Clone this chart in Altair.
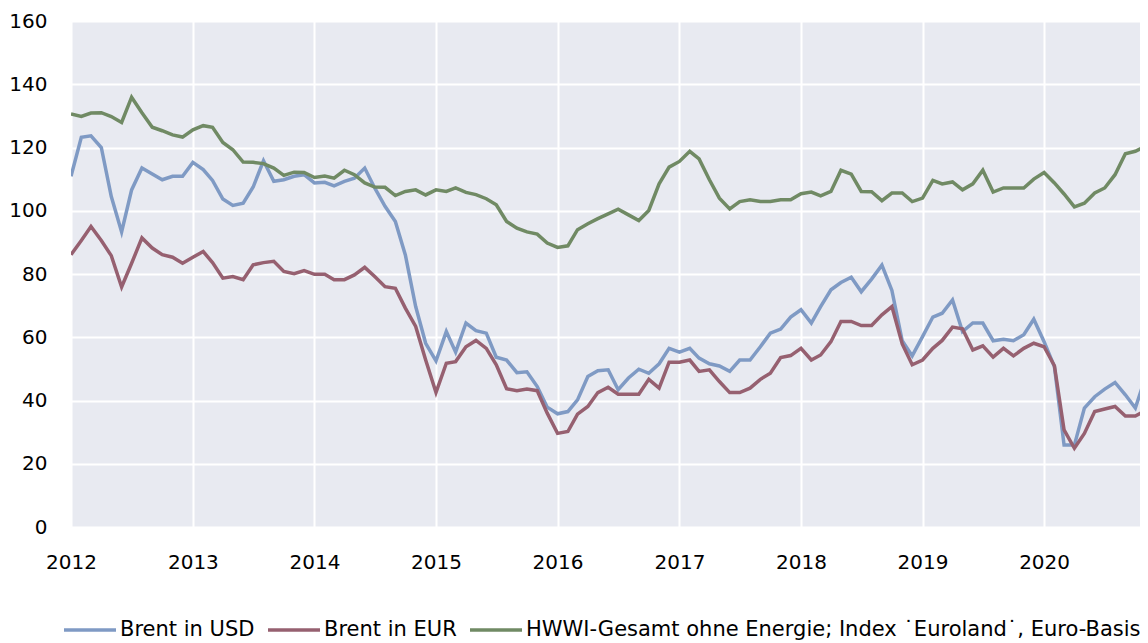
import altair as alt
import pandas as pd

# Monthly observations, Jan 2012 .. Nov 2020
months = [d.strftime("%Y-%m-%d") for d in pd.date_range("2012-01-01", periods=107, freq="MS")]

usd = [110.9, 123.2, 123.7, 120.0, 104.5, 93.3, 106.6, 113.5, 111.6, 109.8, 110.9, 110.9,
       115.3, 113.0, 109.6, 103.7, 101.7, 102.4, 107.5, 115.8, 109.3, 109.8, 110.9, 111.4,
       108.8, 109.0, 107.9, 109.3, 110.3, 113.5, 107.2, 101.4, 96.6, 86.0, 69.7, 58.1,
       52.5, 61.8, 55.3, 64.5, 62.1, 61.3, 53.7, 52.8, 48.8, 49.1, 44.4, 37.9,
       35.8, 36.5, 40.2, 47.6, 49.4, 49.7, 43.4, 47.1, 49.9, 48.6, 51.6, 56.5,
       55.3, 56.5, 53.4, 51.6, 50.9, 49.2, 52.8, 52.8, 57.0, 61.3, 62.6, 66.4,
       68.7, 64.5, 69.7, 75.0, 77.3, 79.0, 74.4, 78.4, 82.8, 74.8, 58.9, 54.1,
       60.2, 66.4, 67.6, 71.8, 61.8, 64.5, 64.5, 58.9, 59.4, 58.9, 60.8, 65.7,
       58.6, 50.7, 25.9, 25.9, 37.6, 41.2, 43.6, 45.7, 41.8, 37.6, 47.6]

eur = [86.1, 90.6, 95.0, 90.6, 85.8, 75.9, 83.4, 91.4, 88.2, 86.1, 85.3, 83.4,
       85.3, 87.1, 83.6, 78.7, 79.2, 78.2, 82.9, 83.6, 84.0, 80.8, 80.1, 81.1,
       79.9, 79.9, 78.2, 78.2, 79.7, 82.1, 79.2, 76.0, 75.5, 69.2, 63.4, 52.8,
       42.5, 51.8, 52.3, 57.0, 59.0, 56.5, 51.3, 43.7, 43.1, 43.6, 43.1, 36.0,
       29.6, 30.2, 35.7, 38.1, 42.5, 44.2, 42.0, 42.0, 42.0, 46.7, 43.9, 52.1,
       52.1, 52.8, 49.2, 49.7, 46.0, 42.5, 42.5, 43.9, 46.7, 48.6, 53.6, 54.2,
       56.5, 52.8, 54.4, 58.6, 65.0, 65.0, 63.7, 63.7, 67.1, 69.7, 57.9, 51.3,
       52.8, 56.5, 59.0, 63.2, 62.7, 56.0, 57.3, 53.7, 56.5, 54.1, 56.5, 58.1,
       57.0, 51.0, 30.7, 24.9, 29.6, 36.5, 37.3, 38.1, 35.1, 35.1, 36.8]

hwwi = [130.6, 129.8, 130.9, 131.0, 129.8, 127.9, 135.9, 131.0, 126.4, 125.3, 124.0, 123.3,
        125.6, 126.9, 126.4, 121.6, 119.3, 115.4, 115.3, 114.9, 113.5, 111.2, 112.2, 112.1,
        110.5, 111.0, 110.3, 112.8, 111.4, 108.8, 107.5, 107.4, 104.8, 106.1, 106.6, 105.0,
        106.6, 106.1, 107.2, 105.8, 105.1, 103.8, 101.9, 96.6, 94.5, 93.3, 92.6, 89.8,
        88.4, 88.9, 94.0, 95.9, 97.5, 99.0, 100.5, 98.7, 96.9, 100.1, 108.5, 113.8,
        115.6, 118.8, 116.4, 109.8, 104.0, 100.6, 102.9, 103.5, 102.9, 102.9, 103.5, 103.5,
        105.4, 105.9, 104.7, 106.1, 112.8, 111.6, 106.1, 106.0, 103.2, 105.6, 105.6, 102.9,
        104.0, 109.6, 108.5, 109.1, 106.6, 108.5, 112.8, 105.9, 107.2, 107.2, 107.2, 110.0,
        112.1, 108.8, 105.3, 101.2, 102.4, 105.6, 107.2, 111.4, 118.0, 118.8, 120.4]

series_names = ["Brent in USD", "Brent in EUR",
                "HWWI-Gesamt ohne Energie; Index ˙Euroland˙, Euro-Basis"]
series_colors = ["#7F9AC4", "#966070", "#708A64"]
y_ticks = [0, 20, 40, 60, 80, 100, 120, 140, 160]
year_ticks = list(range(2012, 2021))

rows = []
for order, (name, vals) in enumerate(zip(series_names, [usd, eur, hwwi])):
    for d, v in zip(months, vals):
        rows.append({"date": d, "value": v, "series": name, "order": order})
df = pd.DataFrame(rows)

FONT = "DejaVu Sans"

chart = alt.Chart(df).mark_line(strokeWidth=3.5, clip=True).encode(
    x=alt.X(
        "date:T",
        title=None,
        scale=alt.Scale(
            type="utc",
            domain=[alt.DateTime(year=2012, month=1, date=1, utc=True),
                    alt.DateTime(year=2020, month=10, date=15, utc=True)],
        ),
        axis=alt.Axis(
            values=[alt.DateTime(year=y, month=1, date=1, utc=True) for y in year_ticks],
            format="%Y",
            formatType="utc",
            labelPadding=25,
            labelAlign="center",
        ),
    ),
    y=alt.Y(
        "value:Q",
        title=None,
        scale=alt.Scale(domain=[0, 160], nice=False),
        axis=alt.Axis(values=y_ticks, labelPadding=24),
    ),
    color=alt.Color(
        "series:N",
        scale=alt.Scale(domain=series_names, range=series_colors),
        sort=series_names,
        legend=alt.Legend(
            title=None,
            orient="none",
            direction="horizontal",
            legendX=-9,
            legendY=581,
            symbolType="stroke",
            symbolSize=2704,
            symbolStrokeWidth=3.5,
            labelFont=FONT,
            labelFontSize=21,
            labelColor="#000000",
            labelLimit=900,
            labelOffset=2,
            columnPadding=6,
            padding=0,
        ),
    ),
    order="order:Q",
).properties(
    width=1069,
    height=506,
    autosize=alt.AutoSizeParams(type="none"),
    padding={"left": 63, "top": 13, "right": 0, "bottom": 114},
).configure_view(
    fill="#E8EAF1",
    stroke="transparent",
).configure_axis(
    grid=True,
    gridColor="#FFFFFF",
    gridWidth=2,
    domain=False,
    ticks=False,
    labelFont=FONT,
    labelFontSize=20,
    labelColor="#000000",
)

chart.save("out.html", embed_options={"renderer": "svg", "actions": False})
